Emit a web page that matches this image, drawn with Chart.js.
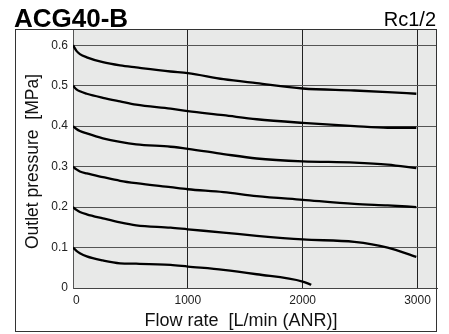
<!DOCTYPE html>
<html>
<head>
<meta charset="utf-8">
<script src="https://cdn.jsdelivr.net/npm/chart.js@4"></script>
<style>
  html, body { margin: 0; padding: 0; background: #fff; }
  canvas { display: block; }
</style>
</head>
<body>
<canvas id="flow_chart" width="449" height="334"></canvas>
<script>
// flow rate [L/min (ANR)]
var flowRates = [0, 30, 60, 120, 260, 410, 550, 850, 1000, 1310, 1600, 2000, 2450, 2740, 2990];
var flowRatesLow = [0, 30, 60, 120, 260, 410, 550, 850, 1000, 1310, 1600, 2000, 2075];

// outlet pressure [MPa] for each set pressure
var pressure06 = [0.600, 0.586, 0.578, 0.570, 0.558, 0.550, 0.545, 0.535, 0.531, 0.516, 0.506, 0.493, 0.488, 0.484, 0.480];
var pressure05 = [0.500, 0.491, 0.486, 0.480, 0.470, 0.461, 0.453, 0.443, 0.437, 0.427, 0.417, 0.408, 0.400, 0.396, 0.396];
var pressure04 = [0.400, 0.393, 0.388, 0.382, 0.370, 0.361, 0.355, 0.349, 0.344, 0.331, 0.320, 0.313, 0.310, 0.305, 0.296];
var pressure03 = [0.300, 0.293, 0.288, 0.283, 0.274, 0.265, 0.259, 0.249, 0.244, 0.237, 0.227, 0.218, 0.208, 0.204, 0.200];
var pressure02 = [0.200, 0.193, 0.188, 0.182, 0.172, 0.162, 0.155, 0.149, 0.145, 0.137, 0.129, 0.120, 0.114, 0.100, 0.077];
var pressure01 = [0.100, 0.092, 0.086, 0.078, 0.068, 0.061, 0.060, 0.057, 0.053, 0.045, 0.034, 0.016, 0.008];

var xTicks = [0, 1000, 2000, 3000];
var yTicks = [0, 0.1, 0.2, 0.3, 0.4, 0.5, 0.6];

var FONT = '"Liberation Sans", Arial, sans-serif';

function toPoints(xs, ys) {
    return xs.map(function(x, i) { return { x: x, y: ys[i] }; });
}

function curve(xs, ys) {
    return {
        data: toPoints(xs, ys),
        borderColor: '#000',
        borderWidth: 2.3,
        pointRadius: 0,
        fill: false,
        cubicInterpolationMode: 'monotone'
    };
}

// grey plot background, outer frame, header and axis titles
var framePlugin = {
    id: 'frame',
    beforeDraw: function(chart) {
        var ctx = chart.ctx, a = chart.chartArea;
        ctx.save();
        ctx.fillStyle = '#fff';
        ctx.fillRect(0, 0, chart.width, chart.height);
        ctx.fillStyle = '#e8e9e8';
        ctx.fillRect(a.left, a.top, a.right - a.left, a.bottom - a.top);
        ctx.restore();
    },
    afterDraw: function(chart) {
        var ctx = chart.ctx;
        ctx.save();
        ctx.strokeStyle = '#333';
        ctx.lineWidth = 1;
        ctx.strokeRect(15.5, 29.5, 421, 302);

        ctx.fillStyle = '#000';
        ctx.textBaseline = 'alphabetic';
        ctx.font = 'bold 26px ' + FONT;
        ctx.textAlign = 'left';
        ctx.fillText('ACG40-B', 14, 27);
        ctx.font = '20px ' + FONT;
        ctx.textAlign = 'right';
        ctx.fillText('Rc1/2', 436, 26);

        ctx.fillStyle = '#111';
        ctx.textAlign = 'center';
        ctx.font = '18px ' + FONT;
        ctx.fillText('Flow rate  [L/min (ANR)]', 241, 326);

        ctx.translate(38, 161.5);
        ctx.rotate(-Math.PI / 2);
        ctx.font = '17.5px ' + FONT;
        ctx.fillText('Outlet pressure  [MPa]', 0, 0);
        ctx.restore();
    }
};

document.addEventListener("DOMContentLoaded", function() {
    var ctx = document.getElementById('flow_chart').getContext('2d');
    Chart.defaults.font.family = FONT;
    Chart.defaults.color = '#222';

    new Chart(ctx, {
        type: 'line',
        data: {
            datasets: [
                curve(flowRates, pressure06),
                curve(flowRates, pressure05),
                curve(flowRates, pressure04),
                curve(flowRates, pressure03),
                curve(flowRates, pressure02),
                curve(flowRatesLow, pressure01)
            ]
        },
        options: {
            responsive: false,
            animation: false,
            devicePixelRatio: 1,
            layout: { padding: { left: 15, top: 29, right: 12, bottom: 2 } },
            plugins: { legend: { display: false }, tooltip: { enabled: false } },
            scales: {
                x: {
                    type: 'linear',
                    min: 0,
                    max: 3170,
                    afterBuildTicks: function(scale) {
                        scale.ticks = xTicks.map(function(v) { return { value: v }; });
                    },
                    afterFit: function(scale) { scale.height = 44; },
                    ticks: {
                        padding: 5,
                        maxRotation: 0,
                        font: { size: 12 },
                        color: '#222',
                        callback: function(v) { return v === 0 ? '  0' : String(v); }
                    },
                    grid: {
                        drawTicks: false,
                        color: function(c) { return c.tick && c.tick.value === 0 ? '#666' : '#222'; },
                        lineWidth: 1
                    },
                    border: { color: '#444', width: 1 }
                },
                y: {
                    min: 0,
                    max: 0.64,
                    afterBuildTicks: function(scale) {
                        scale.ticks = yTicks.map(function(v) { return { value: v }; });
                    },
                    afterFit: function(scale) { scale.width = 58; },
                    ticks: {
                        padding: 5,
                        font: { size: 12 },
                        color: '#222',
                        callback: function(v) { return v === 0 ? '0' : v.toFixed(1); }
                    },
                    grid: { drawTicks: false, color: '#555', lineWidth: 1 },
                    border: { color: '#555', width: 1 }
                }
            }
        },
        plugins: [framePlugin]
    });
});
</script>
</body>
</html>
